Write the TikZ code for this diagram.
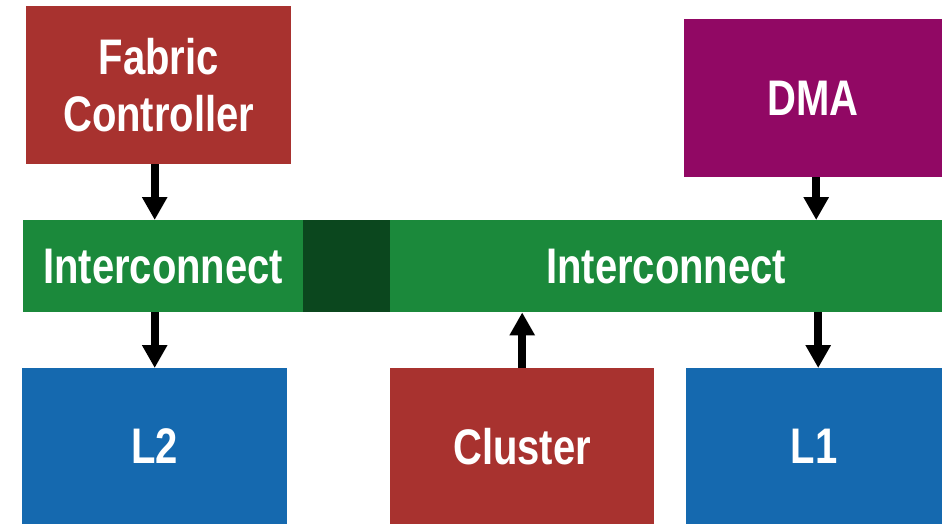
\documentclass[tikz,border=0pt]{standalone}
\usepackage{fontspec}
\setmainfont{Liberation Sans}[FakeStretch=0.8]
\usetikzlibrary{arrows.meta}
\definecolor{fcred}{HTML}{A8322F}
\definecolor{dmapurple}{HTML}{910864}
\definecolor{icgreen}{HTML}{1B893B}
\definecolor{icdark}{HTML}{0B471E}
\definecolor{memblue}{HTML}{1569AF}
\tikzset{
  blk/.style={draw=none, inner sep=0pt, anchor=north west, text=white,
    font=\bfseries\fontsize{50}{57}\selectfont, align=center},
  link/.style={line width=8pt, -{Triangle[width=24pt,length=23pt]}}
}
\begin{document}
\begin{tikzpicture}[x=1pt,y=-1pt]
\useasboundingbox (0,0) rectangle (942,524);
% top row
\node[blk, fill=fcred, minimum width=265pt, minimum height=158pt] (fc) at (26,6) {Fabric\\Controller};
\node[blk, fill=dmapurple, minimum width=258pt, minimum height=158pt] (dma) at (684,19) {DMA};
% interconnect band
\node[blk, fill=icgreen, minimum width=280pt, minimum height=92pt] (icl) at (23,220) {Interconnect};
\node[blk, fill=icdark, minimum width=87pt, minimum height=92pt] (bridge) at (303,220) {};
\node[blk, fill=icgreen, minimum width=552pt, minimum height=92pt] (icr) at (390,220) {Interconnect};
% bottom row
\node[blk, fill=memblue, minimum width=265pt, minimum height=156pt] (l2) at (22,368) {L2};
\node[blk, fill=fcred, minimum width=264pt, minimum height=156pt] (cl) at (390,368) {Cluster};
\node[blk, fill=memblue, minimum width=256pt, minimum height=156pt] (l1) at (686,368) {L1};
% connections
\draw[link] (fc.south -| l2.north) -- (icl.north -| l2.north);
\draw[link] (icl.south -| l2.north) -- (l2.north);
\draw[link] ([xshift=3pt]dma.south) -- ([xshift=3pt]dma.south |- icr.north);
\draw[link] ([xshift=4pt]l1.north |- icr.south) -- ([xshift=4pt]l1.north);
\draw[link] (cl.north) -- (cl.north |- icr.south);
\end{tikzpicture}
\end{document}
